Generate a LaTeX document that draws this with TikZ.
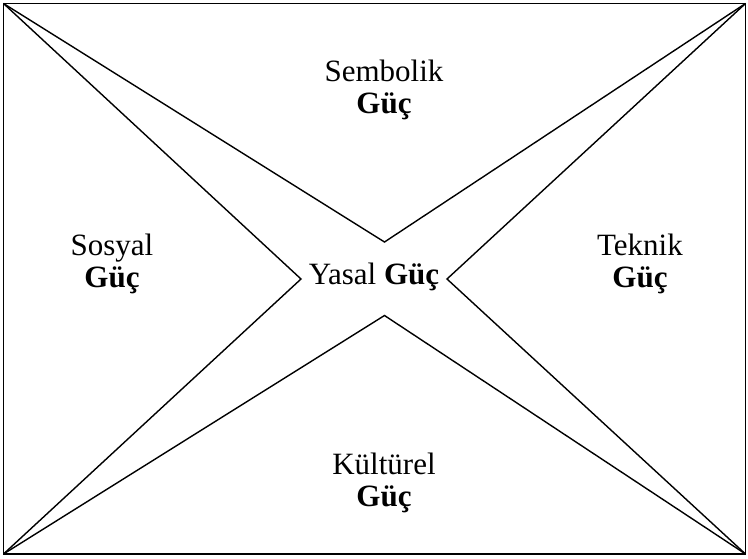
\documentclass[tikz,border=0pt]{standalone}
\usepackage{fontspec}
\setmainfont{Liberation Serif}
\begin{document}
\begin{tikzpicture}[x=1pt,y=-1pt,
  edge/.style={line width=1.4pt, line join=miter},
  lbl/.style={anchor=base, inner sep=0pt, font=\fontsize{31}{32}\selectfont}]
\useasboundingbox (0,0) rectangle (748,558);
\coordinate (tl) at (3.5,3.5);
\coordinate (tr) at (745.5,3.5);
\coordinate (bl) at (3.5,554);
\coordinate (br) at (745.5,554);
\coordinate (vt) at (384.5,242);
\coordinate (vb) at (384.5,315.5);
\coordinate (vl) at (301,279);
\coordinate (vr) at (447,279);
\draw[edge] (tl) rectangle (br);
\draw[edge] (tl) -- (vt) -- (tr);
\draw[edge] (tl) -- (vl) -- (bl);
\draw[edge] (bl) -- (vb) -- (br);
\draw[edge] (tr) -- (vr) -- (br);
\node[lbl] (sem1) at (384,81) {Sembolik};
\node[lbl] (sem2) at (384,113) {\textbf{Güç}};
\node[lbl] (sos1) at (112,255) {Sosyal};
\node[lbl] (sos2) at (112,287) {\textbf{Güç}};
\node[lbl] (tek1) at (640,255) {Teknik};
\node[lbl] (tek2) at (640,287) {\textbf{Güç}};
\node[lbl] (yas) at (374,284) {Yasal \textbf{Güç}};
\node[lbl] (kul1) at (384,474) {Kültürel};
\node[lbl] (kul2) at (384,506) {\textbf{Güç}};
\end{tikzpicture}
\end{document}
